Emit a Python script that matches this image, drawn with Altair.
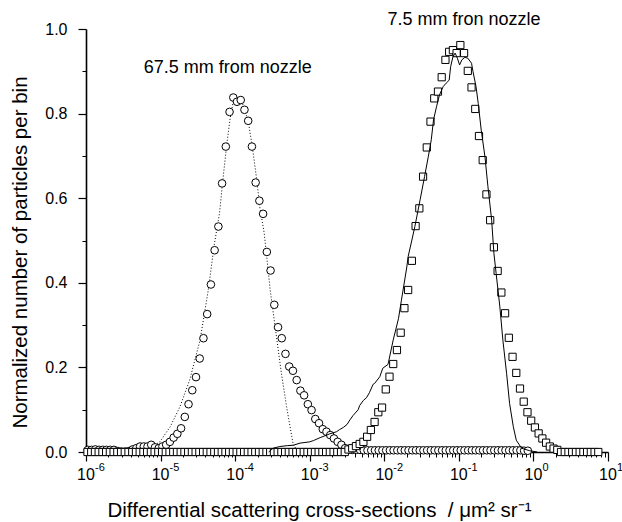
import altair as alt
import pandas as pd

FONT = "Liberation Sans"

# ---------------- data ----------------
# 67.5 mm from nozzle: open circles, bins of 0.05 decade, first bin centre log10 = -5.975
circ_log_start = -5.975
circ_y = [
    0.005, 0.005, 0.006, 0.005, 0.005, 0.005, 0.005, 0.005,
    0.002, 0.001, 0.001, 0.002,
    0.006, 0.009, 0.013, 0.013, 0.013, 0.017, 0.011, 0.009, 0.013,
    0.017, 0.024, 0.034, 0.043, 0.056, 0.083, 0.113, 0.146, 0.177, 0.221, 0.269, 0.326, 0.396,
    0.477, 0.533, 0.635, 0.722, 0.804, 0.838, 0.828, 0.832, 0.809, 0.783,
    0.722, 0.637, 0.594, 0.563, 0.473, 0.429, 0.348, 0.295, 0.269, 0.232,
    0.202, 0.192, 0.170, 0.145, 0.134, 0.113, 0.099, 0.078, 0.068, 0.054,
    0.048, 0.040, 0.032, 0.024, 0.017, 0.009, 0.006,
    0.005, 0.005, 0.005, 0.004, 0.004, 0.004, 0.004, 0.004, 0.004, 0.004,
    0.004, 0.004, 0.004, 0.004, 0.004, 0.004, 0.004, 0.004, 0.004, 0.004,
    0.004, 0.004, 0.004, 0.004, 0.004, 0.004, 0.004, 0.004, 0.004, 0.004,
    0.004, 0.004, 0.004, 0.004, 0.004, 0.004, 0.004, 0.004, 0.004, 0.004,
    0.004, 0.004, 0.004, 0.004, 0.004, 0.004, 0.003, 0.003,
]

# 7.5 mm from nozzle: open squares, bins of 0.05 decade, first bin centre log10 = -5.98
sq_log_start = -5.98
sq_y = [
    0, 0, 0, 0, 0, 0, 0, 0, 0, 0,
    0, 0, 0, 0, 0, 0, 0, 0, 0, 0,
    0, 0, 0, 0, 0, 0, 0, 0, 0, 0,
    0, 0, 0, 0, 0, 0, 0, 0, 0, 0,
    0, 0, 0, 0, 0, 0, 0, 0, 0, 0,
    0, 0, 0, 0, 0, 0, 0, 0, 0, 0,
    0, 0, 0, 0, 0, 0, 0, 0, 0, 0,
    0.006, 0.009, 0.014, 0.019, 0.024, 0.036, 0.052, 0.071, 0.094, 0.105,
    0.148, 0.178, 0.208, 0.241, 0.282, 0.340, 0.383, 0.452, 0.534, 0.576,
    0.651, 0.720, 0.781, 0.836, 0.852, 0.886, 0.927, 0.946, 0.950, 0.943,
    0.962, 0.943, 0.901, 0.862, 0.811, 0.747, 0.690, 0.609, 0.548, 0.484,
    0.428, 0.377, 0.328, 0.270, 0.225, 0.187, 0.150, 0.119, 0.094, 0.074,
    0.058, 0.044, 0.032, 0.022, 0.013, 0.008, 0.005,
    0, 0, 0, 0, 0, 0, 0, 0, 0, 0, 0,
]

# dotted curve through the circles (log10 x, y)
dot_logx = [-5.15, -5.01, -4.87, -4.74, -4.61, -4.47, -4.36, -4.28, -4.21, -4.16,
            -4.11, -4.07, -4.03, -3.98, -3.92, -3.87, -3.82, -3.77, -3.71, -3.67,
            -3.61, -3.58, -3.53, -3.44, -3.38, -3.31, -3.24, -3.22, -3.15]
dot_y = [0.008, 0.024, 0.060, 0.107, 0.170, 0.265, 0.383, 0.490, 0.564, 0.651,
         0.730, 0.785, 0.825, 0.838, 0.832, 0.809, 0.777, 0.722, 0.643, 0.580,
         0.517, 0.467, 0.383, 0.265, 0.186, 0.107, 0.036, 0.017, 0.0]

# solid curve (log10 x, y)
solid_logx = [-3.55, -3.49, -3.40, -3.30, -3.22, -3.13, -3.00, -2.95, -2.86, -2.77,
              -2.73, -2.69, -2.64, -2.60, -2.55, -2.50, -2.46, -2.42, -2.39, -2.35,
              -2.33, -2.28, -2.24, -2.20, -2.15, -2.13, -2.06, -2.02, -1.99, -1.95,
              -1.88, -1.81, -1.77, -1.70, -1.68, -1.63, -1.59, -1.52, -1.46, -1.41,
              -1.37, -1.34, -1.30, -1.26, -1.21, -1.17, -1.13, -1.11, -1.08, -1.05,
              -1.02, -0.99, -0.96, -0.92, -0.88, -0.83, -0.81, -0.77, -0.74, -0.70,
              -0.65, -0.61, -0.56, -0.53, -0.50, -0.45, -0.41, -0.36, -0.32, -0.27,
              -0.23, -0.16, -0.05, 0.05]
solid_y = [0.000, 0.009, 0.013, 0.015, 0.016, 0.021, 0.024, 0.027, 0.034, 0.040,
           0.043, 0.045, 0.048, 0.053, 0.058, 0.065, 0.076, 0.086, 0.092, 0.100,
           0.110, 0.122, 0.128, 0.140, 0.160, 0.162, 0.178, 0.198, 0.202, 0.207,
           0.265, 0.315, 0.359, 0.435, 0.462, 0.501, 0.533, 0.596, 0.651, 0.698,
           0.738, 0.785, 0.816, 0.844, 0.864, 0.872, 0.879, 0.911, 0.934, 0.943,
           0.931, 0.915, 0.927, 0.933, 0.931, 0.919, 0.899, 0.864, 0.824, 0.761,
           0.698, 0.627, 0.548, 0.470, 0.422, 0.343, 0.265, 0.186, 0.115, 0.060,
           0.028, 0.009, 0.003, 0.000]

decades = [-6, -5, -4, -3, -2, -1, 0, 1]
y_major = [0.0, 0.2, 0.4, 0.6, 0.8, 1.0]
y_minor = [0.1, 0.3, 0.5, 0.7, 0.9]

ann_text = ["67.5 mm from nozzle", "7.5 mm fron nozzle"]
ann_logx = [-4.10, -0.93]
ann_y = [0.908, 1.021]

# ---------------- tables ----------------
circ_df = pd.DataFrame({"x": [10 ** (circ_log_start + 0.05 * i) for i in range(len(circ_y))],
                        "y": circ_y})
sq_df = pd.DataFrame({"x": [10 ** (sq_log_start + 0.05 * i) for i in range(len(sq_y))],
                      "y": sq_y})
dot_df = pd.DataFrame({"x": [10 ** v for v in dot_logx], "y": dot_y})
solid_df = pd.DataFrame({"x": [10 ** v for v in solid_logx], "y": solid_y})
dec_df = pd.DataFrame({"x": [10.0 ** d for d in decades], "y": [0.0] * len(decades),
                       "base": ["10"] * len(decades), "exp": [str(d) for d in decades]})
ann_df = pd.DataFrame({"x": [10 ** v for v in ann_logx], "y": ann_y, "t": ann_text})

x_minor_vals = [m * 10.0 ** d for d in decades[:-1] for m in range(2, 10)]

xscale = alt.Scale(type="log", domain=[1e-6, 10], nice=False)
yscale = alt.Scale(domain=[0, 1], nice=False, zero=False)

x_major_axis = alt.Axis(
    orient="bottom", values=[10.0 ** d for d in decades], labels=False, grid=False,
    tickSize=9, tickWidth=1.2, tickColor="black", domainColor="black", domainWidth=1.6,
    title="Differential scattering cross-sections \u00a0/ \u03bcm\u00b2 sr\u207b\u00b9",
    titleFont=FONT, titleFontSize=20.5, titleFontWeight="normal", titleColor="black",
    titleX=233, titleY=64, titleBaseline="alphabetic",
)
x_minor_axis = alt.Axis(
    orient="bottom", values=x_minor_vals, labels=False, grid=False, domain=False,
    tickSize=5, tickWidth=1, tickColor="black", title=None,
)
y_major_axis = alt.Axis(
    orient="left", values=y_major, format=".1f", grid=False,
    tickSize=8, tickWidth=1.2, tickColor="black", domainColor="black", domainWidth=1.6,
    labelFont=FONT, labelFontSize=16, labelColor="black", labelPadding=11,
    title="Normalized number of particles per bin",
    titleFont=FONT, titleFontSize=20.5, titleFontWeight="normal", titleColor="black",
    titleX=-60, titleY=223, titleBaseline="alphabetic",
)
y_minor_axis = alt.Axis(
    orient="left", values=y_minor, labels=False, grid=False, domain=False,
    tickSize=4, tickWidth=1, tickColor="black", title=None,
)

dotted = alt.Chart(dot_df).mark_line(color="black", strokeWidth=1, strokeDash=[1, 2]).encode(
    x=alt.X("x:Q", scale=xscale, axis=x_major_axis),
    y=alt.Y("y:Q", scale=yscale, axis=y_major_axis),
)
circles = alt.Chart(circ_df).mark_point(shape="circle", size=58, filled=False, fill="white",
                                         fillOpacity=1, stroke="black", strokeWidth=1,
                                         opacity=1).encode(
    x=alt.X("x:Q", scale=xscale, axis=x_minor_axis),
    y=alt.Y("y:Q", scale=yscale, axis=y_minor_axis),
)
squares = alt.Chart(sq_df).mark_point(shape="square", size=52, filled=False, fill="white",
                                       fillOpacity=1, stroke="black", strokeWidth=1,
                                       opacity=1).encode(
    x=alt.X("x:Q", scale=xscale, axis=None),
    y=alt.Y("y:Q", scale=yscale, axis=None),
)
solid = alt.Chart(solid_df).mark_line(color="black", strokeWidth=1).encode(
    x=alt.X("x:Q", scale=xscale, axis=None),
    y=alt.Y("y:Q", scale=yscale, axis=None),
)
base_lbl = alt.Chart(dec_df).mark_text(font=FONT, fontSize=16, color="black", align="center",
                                       baseline="alphabetic", dy=28).encode(
    x=alt.X("x:Q", scale=xscale, axis=None),
    y=alt.Y("y:Q", scale=yscale, axis=None),
    text="base:N",
)
exp_lbl = alt.Chart(dec_df).mark_text(font=FONT, fontSize=11, color="black", align="left",
                                      baseline="alphabetic", dx=9, dy=19).encode(
    x=alt.X("x:Q", scale=xscale, axis=None),
    y=alt.Y("y:Q", scale=yscale, axis=None),
    text="exp:N",
)
ann = alt.Chart(ann_df).mark_text(font=FONT, fontSize=18, color="black", align="center",
                                  baseline="middle").encode(
    x=alt.X("x:Q", scale=xscale, axis=None),
    y=alt.Y("y:Q", scale=yscale, axis=None),
    text="t:N",
)

chart = alt.layer(dotted, circles, squares, solid, base_lbl, exp_lbl, ann).resolve_axis(
    x="independent", y="independent"
).properties(
    width=522, height=423,
    autosize=alt.AutoSizeParams(type="none"),
    padding={"left": 86, "top": 29, "right": 14, "bottom": 70},
    background="white",
).configure_view(stroke=None)

chart.save("out.html", embed_options={"renderer": "svg", "actions": False})
